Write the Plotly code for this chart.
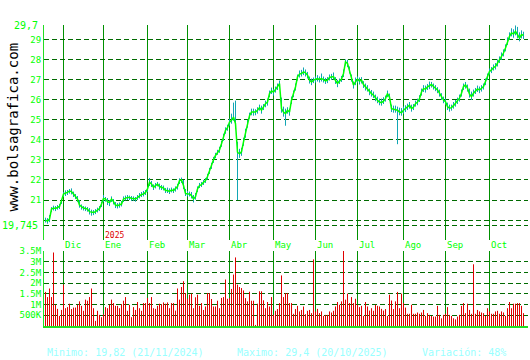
import plotly.graph_objects as go

# ---------------- data ----------------
month_labels = ["Dic", "Ene", "Feb", "Mar", "Abr", "May", "Jun", "Jul", "Ago", "Sep", "Oct"]
month_start = [9, 29, 51, 71, 92, 114, 135, 156, 179, 200, 222]  # trading-day index of 1st session

close = [
    20.00, 19.95, 20.05, 20.55, 20.60, 20.58, 20.63, 20.68, 20.97, 21.30,
    21.35, 21.38, 21.45, 21.42, 21.30, 21.18, 21.05, 20.75, 20.65, 20.60,
    20.58, 20.55, 20.42, 20.38, 20.38, 20.42, 20.50, 20.58, 20.80, 21.08,
    21.05, 20.92, 20.88, 21.05, 20.92, 20.75, 20.72, 20.75, 20.80, 21.05,
    21.10, 21.13, 21.13, 21.08, 21.08, 21.05, 21.12, 21.22, 21.28, 21.30,
    21.38, 21.55, 21.88, 21.80, 21.63, 21.72, 21.80, 21.67, 21.63, 21.60,
    21.47, 21.47, 21.43, 21.50, 21.47, 21.55, 21.67, 21.97, 22.00, 21.72,
    21.33, 21.30, 21.30, 21.22, 21.05, 21.17, 21.55, 21.72, 21.77, 21.88,
    21.97, 22.17, 22.47, 22.72, 23.00, 23.22, 23.38, 23.50, 23.80, 24.13,
    24.47, 24.60, 24.88, 24.97, 25.13, 24.80, 23.38, 23.30, 23.40, 23.90,
    24.30, 24.80, 25.20, 25.38, 25.38, 25.38, 25.47, 25.60, 25.47, 25.63,
    25.80, 25.88, 26.30, 26.43, 26.38, 26.50, 26.63, 26.80, 25.55, 25.38,
    25.30, 25.47, 25.38, 25.97, 26.30, 26.63, 27.13, 27.27, 27.30, 27.38,
    27.33, 27.22, 26.97, 26.88, 26.97, 27.00, 27.05, 27.00, 27.05, 27.00,
    26.93, 26.97, 27.10, 27.13, 27.15, 26.95, 26.80, 26.92, 27.02, 27.30,
    27.88, 27.80, 27.47, 27.08, 26.72, 26.88, 27.02, 26.92, 26.97, 26.75,
    26.63, 26.55, 26.38, 26.30, 26.22, 26.08, 25.97, 25.88, 25.85, 25.92,
    26.05, 26.30, 26.13, 25.55, 25.52, 25.52, 25.47, 25.38, 25.35, 25.47,
    25.55, 25.63, 25.72, 25.55, 25.63, 25.80, 25.88, 26.05, 26.38, 26.55,
    26.52, 26.63, 26.68, 26.75, 26.65, 26.57, 26.48, 26.32, 26.15, 25.98,
    25.90, 25.65, 25.57, 25.60, 25.70, 25.82, 25.93, 26.07, 26.32, 26.65,
    26.73, 26.57, 26.27, 26.15, 26.32, 26.43, 26.53, 26.48, 26.57, 26.65,
    26.90, 27.15, 27.40, 27.48, 27.60, 27.65, 27.82, 27.98, 28.15, 28.32,
    28.57, 28.90, 29.15, 29.32, 29.27, 29.40, 29.23, 29.07, 29.23, 29.20,
]

high = [
    20.12, 20.10, 20.25, 20.65, 20.72, 20.70, 20.75, 20.80, 21.05, 21.40,
    21.48, 21.50, 21.55, 21.58, 21.42, 21.30, 21.20, 21.00, 20.78, 20.70,
    20.68, 20.65, 20.60, 20.52, 20.50, 20.55, 20.62, 20.70, 20.92, 21.25,
    21.15, 21.10, 21.00, 21.18, 21.05, 20.90, 20.85, 20.88, 20.95, 21.18,
    21.22, 21.25, 21.22, 21.20, 21.18, 21.15, 21.25, 21.35, 21.40, 21.45,
    21.50, 21.65, 22.10, 21.95, 21.78, 21.85, 21.90, 21.82, 21.75, 21.72,
    21.60, 21.62, 21.58, 21.62, 21.58, 21.68, 21.80, 22.08, 22.12, 22.00,
    21.55, 21.45, 21.42, 21.40, 21.25, 21.35, 21.68, 21.85, 21.90, 22.00,
    22.10, 22.30, 22.60, 22.85, 23.15, 23.35, 23.50, 23.65, 23.95, 24.30,
    24.62, 24.75, 25.05, 25.30, 25.85, 25.95, 23.90, 23.55, 23.60, 24.10,
    24.55, 25.00, 25.35, 25.55, 25.55, 25.52, 25.62, 25.75, 25.70, 25.78,
    25.95, 26.05, 26.45, 26.60, 26.52, 26.65, 26.80, 26.95, 26.10, 25.65,
    25.55, 25.62, 25.55, 26.15, 26.45, 26.80, 27.25, 27.45, 27.48, 27.60,
    27.50, 27.38, 27.15, 27.05, 27.10, 27.15, 27.22, 27.15, 27.30, 27.15,
    27.08, 27.12, 27.25, 27.28, 27.35, 27.12, 26.98, 27.05, 27.18, 27.50,
    28.00, 27.98, 27.65, 27.25, 26.90, 27.10, 27.15, 27.10, 27.12, 26.92,
    26.80, 26.72, 26.55, 26.48, 26.40, 26.25, 26.15, 26.05, 26.05, 26.12,
    26.20, 26.45, 26.30, 25.75, 25.70, 25.70, 25.65, 25.60, 25.58, 25.65,
    25.72, 25.80, 25.88, 25.75, 25.78, 25.95, 26.05, 26.22, 26.55, 26.72,
    26.70, 26.78, 26.90, 26.88, 26.80, 26.72, 26.62, 26.50, 26.32, 26.15,
    26.05, 25.85, 25.75, 25.75, 25.88, 25.98, 26.10, 26.25, 26.50, 26.80,
    26.88, 26.75, 26.55, 26.40, 26.50, 26.58, 26.70, 26.65, 26.72, 26.80,
    27.05, 27.30, 27.55, 27.62, 27.75, 27.82, 28.00, 28.15, 28.35, 28.50,
    28.75, 29.10, 29.35, 29.55, 29.50, 29.70, 29.62, 29.35, 29.45, 29.38,
]

low = [
    19.88, 19.82, 19.90, 20.40, 20.48, 20.45, 20.52, 20.55, 20.80, 21.15,
    21.20, 21.25, 21.32, 21.28, 21.15, 21.05, 20.90, 20.62, 20.52, 20.48,
    20.45, 20.42, 20.28, 20.22, 20.25, 20.30, 20.38, 20.45, 20.65, 20.90,
    20.92, 20.75, 20.70, 20.90, 20.78, 20.60, 20.58, 20.62, 20.68, 20.90,
    20.98, 21.00, 21.00, 20.95, 20.95, 20.92, 21.00, 21.08, 21.15, 21.18,
    21.25, 21.40, 21.70, 21.65, 21.50, 21.58, 21.68, 21.52, 21.50, 21.48,
    21.35, 21.35, 21.30, 21.38, 21.35, 21.42, 21.52, 21.80, 21.85, 21.55,
    21.20, 21.18, 21.18, 21.08, 20.88, 21.02, 21.40, 21.60, 21.65, 21.75,
    21.85, 22.02, 22.30, 22.55, 22.85, 23.08, 23.25, 23.35, 23.65, 23.95,
    24.30, 24.45, 24.70, 24.80, 24.95, 24.55, 21.00, 23.10, 23.20, 23.70,
    24.10, 24.60, 25.05, 25.22, 25.20, 25.22, 25.30, 25.45, 25.30, 25.48,
    25.62, 25.70, 26.12, 26.28, 26.20, 26.35, 26.48, 26.62, 25.35, 25.15,
    24.70, 25.30, 25.20, 25.78, 26.12, 26.45, 26.95, 27.10, 27.15, 27.22,
    27.15, 27.05, 26.80, 26.72, 26.82, 26.85, 26.90, 26.85, 26.90, 26.85,
    26.78, 26.82, 26.95, 26.98, 27.00, 26.78, 26.62, 26.78, 26.88, 27.12,
    27.70, 27.62, 27.30, 26.90, 26.55, 26.72, 26.85, 26.75, 26.80, 26.58,
    26.45, 26.40, 26.22, 26.15, 26.08, 25.92, 25.82, 25.72, 25.70, 25.78,
    25.90, 26.12, 25.95, 25.38, 25.35, 25.35, 23.78, 25.22, 25.20, 25.30,
    25.38, 25.48, 25.55, 25.40, 25.48, 25.65, 25.72, 25.88, 26.20, 26.38,
    26.35, 26.48, 26.52, 26.60, 26.50, 26.42, 26.32, 26.15, 25.98, 25.82,
    25.75, 25.48, 25.40, 25.45, 25.55, 25.65, 25.78, 25.90, 26.15, 26.48,
    26.55, 26.40, 26.10, 25.98, 26.15, 26.28, 26.38, 26.32, 26.40, 26.50,
    26.72, 26.98, 27.25, 27.32, 27.45, 27.50, 27.65, 27.82, 27.98, 28.15,
    28.40, 28.72, 28.98, 29.15, 29.08, 29.20, 29.05, 28.90, 29.05, 29.02,
]

volume_m = [  # millions of shares
    1.59, 1.35, 1.75, 1.35, 3.43, 0.99, 0.80, 0.47, 0.75, 1.93,
    0.83, 0.88, 1.04, 0.79, 0.86, 0.86, 0.99, 1.15, 0.94, 0.71,
    1.23, 1.18, 1.35, 1.75, 0.83, 0.24, 0.71, 0.52, 0.41, 0.55,
    0.88, 0.83, 0.99, 1.23, 1.07, 0.94, 0.94, 0.83, 1.02, 1.18,
    1.35, 0.71, 0.99, 0.41, 0.88, 0.75, 1.12, 0.83, 0.71, 1.07,
    1.07, 1.31, 1.07, 1.35, 0.83, 0.80, 0.94, 1.04, 1.02, 1.10,
    1.04, 1.10, 0.83, 1.07, 1.07, 0.72, 1.75, 1.23, 1.82, 2.09,
    1.54, 1.27, 1.46, 1.51, 0.83, 1.34, 1.46, 0.94, 1.07, 0.75,
    0.91, 1.54, 1.54, 1.26, 0.91, 0.91, 1.18, 0.83, 1.31, 1.35,
    2.17, 1.27, 1.30, 1.73, 2.40, 3.20, 1.93, 1.82, 1.77, 1.66,
    1.30, 1.15, 1.60, 1.18, 1.18, 0.05, 1.04, 1.62, 1.62, 1.20,
    0.83, 1.12, 0.91, 1.35, 0.52, 0.71, 0.79, 1.07, 2.36, 1.35,
    1.54, 1.54, 1.07, 1.07, 0.57, 0.79, 0.94, 0.68, 0.75, 0.91,
    0.55, 0.71, 0.75, 0.60, 3.11, 0.68, 0.80, 0.60, 0.68, 0.47,
    0.52, 0.52, 0.68, 0.63, 0.71, 0.91, 1.12, 0.99, 1.15, 3.50,
    1.23, 1.51, 1.07, 1.35, 1.07, 1.27, 0.99, 0.88, 0.94, 0.47,
    1.12, 0.91, 0.72, 0.83, 0.71, 0.99, 0.94, 0.91, 0.80, 0.72,
    0.79, 0.47, 1.46, 1.19, 0.79, 1.15, 1.59, 0.83, 1.51, 1.07,
    0.86, 0.57, 0.57, 0.99, 0.57, 0.57, 0.63, 0.57, 0.63, 0.75,
    0.47, 0.60, 0.52, 0.47, 0.44, 0.44, 0.94, 0.52, 0.36, 0.52,
    0.57, 0.88, 0.52, 0.47, 0.36, 0.31, 0.44, 0.52, 0.94, 1.07,
    0.60, 1.04, 0.75, 0.57, 2.88, 0.57, 0.75, 0.68, 0.63, 0.60,
    0.47, 0.83, 0.68, 0.57, 0.57, 0.68, 0.71, 0.57, 0.68, 0.63,
    0.47, 0.83, 1.12, 0.83, 1.04, 1.04, 1.07, 1.07, 0.94, 0.60,
]

price_ticks = [21, 22, 23, 24, 25, 26, 27, 28, 29]
price_extra_grid = [19.745, 20]
price_min_label, price_max_label = 19.745, 29.7
vol_tickvals = [0.5, 1.0, 1.5, 2.0, 2.5, 3.0, 3.5]
vol_ticktext = ["500K", "1M", "1.5M", "2M", "2.5M", "3M", "3.5M"]
year_label = "2025"
stats_texts = ["Minimo: 19,82 (21/11/2024)", "Maximo: 29,4 (20/10/2025)", "Variación: 48%"]
watermark = "www.bolsagrafica.com"

# ---------------- figure ----------------
W, H = 530, 360
ML, MR = 44, 2
PW = W - ML - MR
MONO = "DejaVu Sans Mono"
GREEN = "#00ff00"
GRID = "#006a00"
VLINE = "#009000"


def py(px):  # pixel row -> paper y
    return 1 - px / H


def pxx(px):  # pixel column -> paper x
    return (px - ML) / PW


days = list(range(len(close)))
xr = [-0.75, len(close) + 1.25]

# vertical segments (high-low range and volume sticks) built from the data
hl_x, hl_y, v_x, v_y = [], [], [], []
for d, h, l, v in zip(days, high, low, volume_m):
    hl_x += [d, d, None]
    hl_y += [l, h, None]
    v_x += [d, d, None]
    v_y += [0, v, None]

fig = go.Figure()
fig.add_trace(go.Scatter(x=hl_x, y=hl_y, mode="lines",
                         line=dict(color="#12a6b4", width=1),
                         xaxis="x", yaxis="y", hoverinfo="skip"))
fig.add_trace(go.Scatter(x=days, y=close, mode="lines",
                         line=dict(color=GREEN, width=1.5),
                         xaxis="x", yaxis="y"))
fig.add_trace(go.Scatter(x=v_x, y=v_y, mode="lines",
                         line=dict(color="#e00000", width=1),
                         xaxis="x2", yaxis="y2"))

grid_y_vals = price_extra_grid + price_ticks + [price_max_label]
grid_y_text = ["", ""] + [str(v) for v in price_ticks] + [""]

fig.update_layout(
    width=W, height=H, margin=dict(l=ML, r=MR, t=0, b=0, autoexpand=False),
    paper_bgcolor="white", plot_bgcolor="white", showlegend=False,
    font=dict(family=MONO, color=GREEN, size=9),
    xaxis=dict(domain=[0, 1], range=xr, anchor="y", tickvals=month_start,
               showticklabels=False, showgrid=True, gridcolor=VLINE, gridwidth=1,
               zeroline=False, showline=False, ticks="", automargin=False),
    yaxis=dict(domain=[py(240), py(25.3)], range=[19.01, price_max_label],
               tickvals=grid_y_vals, ticktext=grid_y_text,
               showgrid=True, gridcolor=GRID, gridwidth=1, griddash="5px,3px",
               zeroline=False, showline=True, linecolor="#22dd22", linewidth=1,
               ticks="", automargin=False,
               tickfont=dict(family=MONO, size=9, color=GREEN)),
    xaxis2=dict(domain=[0, 1], range=xr, anchor="y2", tickvals=month_start,
                showticklabels=False, showgrid=True, gridcolor=VLINE, gridwidth=1,
                zeroline=False, showline=True, linecolor="#22dd22", linewidth=2,
                ticks="", automargin=False),
    yaxis2=dict(domain=[py(326), py(251)], range=[0, 3.5],
                tickvals=vol_tickvals, ticktext=vol_ticktext,
                showgrid=True, gridcolor=GRID, gridwidth=1, griddash="5px,3px",
                zeroline=False, showline=True, linecolor="#22dd22", linewidth=1,
                ticks="", automargin=False,
                tickfont=dict(family=MONO, size=9, color=GREEN)),
)

ann = []
for val, txt in [(price_max_label, "29,7"), (price_min_label, "19,745")]:
    ann.append(dict(x=0, xref="paper", y=val, yref="y", text=txt, showarrow=False,
                    xanchor="right", yanchor="middle", xshift=-4,
                    font=dict(family=MONO, size=10, color=GREEN)))
for idx, lab in zip(month_start, month_labels):
    ann.append(dict(x=idx, xref="x", y=py(245), yref="paper", text=lab,
                    showarrow=False, xanchor="left", yanchor="middle", xshift=-1,
                    font=dict(family=MONO, size=9, color=GREEN)))
ann.append(dict(x=month_start[1], xref="x", y=py(235), yref="paper", text=year_label,
                showarrow=False, xanchor="left", yanchor="middle", xshift=-1,
                font=dict(family=MONO, size=8, color="#dd0000")))
ann.append(dict(x=pxx(12.5), xref="paper", y=py(127), yref="paper", text=watermark,
                showarrow=False, textangle=-90, xanchor="center", yanchor="middle",
                font=dict(family=MONO, size=14, color="black")))
for px_x, txt in zip([44.7, 235, 420], stats_texts):
    ann.append(dict(x=pxx(px_x), xref="paper", y=py(352.3), yref="paper", text=txt,
                    showarrow=False, xanchor="left", yanchor="middle",
                    font=dict(family=MONO, size=10, color="#99ffff")))
fig.update_layout(annotations=ann)

fig.write_html("out.html")
